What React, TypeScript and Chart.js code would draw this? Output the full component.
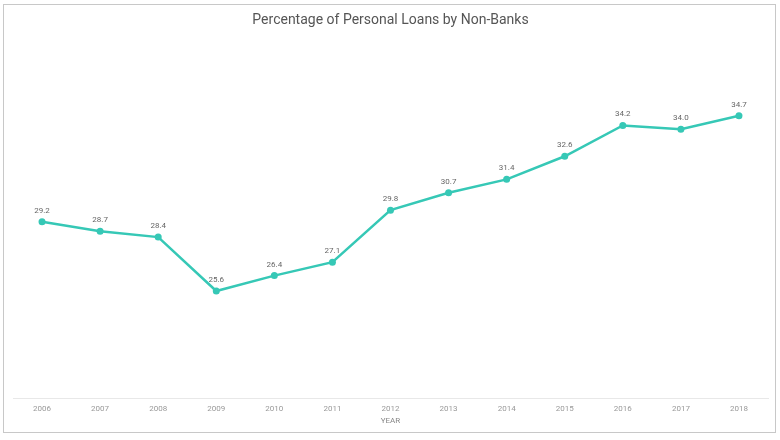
import React, { useEffect, useRef } from "react";
import Chart from "chart.js/auto";

const years = ["2006", "2007", "2008", "2009", "2010", "2011", "2012", "2013", "2014", "2015", "2016", "2017", "2018"];
const nonBankShare = [29.2, 28.7, 28.4, 25.6, 26.4, 27.1, 29.8, 30.7, 31.4, 32.6, 34.2, 34.0, 34.7];

const TEAL = "#36c8b6";

// draws the value above each point
const pointLabels = {
  id: "pointLabels",
  afterDatasetsDraw(chart: any) {
    const { ctx } = chart;
    const meta = chart.getDatasetMeta(0);
    ctx.save();
    ctx.font = "8px Roboto";
    ctx.fillStyle = "#666";
    ctx.textAlign = "center";
    ctx.textBaseline = "bottom";
    meta.data.forEach((pt: any, i: number) => {
      ctx.fillText(nonBankShare[i].toFixed(1), pt.x, pt.y - 7);
    });
    ctx.restore();
  },
};

const App = () => {
  const chartRef = useRef<HTMLCanvasElement>(null);

  useEffect(() => {
    if (!chartRef.current) return;
    const ctx = chartRef.current.getContext("2d");
    if (!ctx) return;

    const lineChart = new Chart(ctx, {
      type: "line",
      data: {
        labels: years,
        datasets: [
          {
            data: nonBankShare,
            borderColor: TEAL,
            backgroundColor: TEAL,
            borderWidth: 2.5,
            pointRadius: 3.5,
            pointBorderWidth: 0,
            tension: 0,
          },
        ],
      },
      options: {
        animation: false,
        responsive: true,
        maintainAspectRatio: false,
        layout: { padding: { left: 13, right: 12, bottom: 14, top: 0 } },
        plugins: {
          legend: { display: false },
          tooltip: { enabled: false },
          title: {
            display: true,
            text: "Percentage of Personal Loans by Non-Banks",
            color: "#555",
            font: { family: "Roboto", size: 14, weight: "normal" },
            padding: { top: 12, bottom: 62 },
          },
        },
        scales: {
          x: {
            offset: true,
            grid: { display: false, drawTicks: false, tickLength: 0 },
            border: { display: true, color: "#e8e8e8", width: 1 },
            ticks: { color: "#999", font: { family: "Roboto", size: 8 }, padding: 5, maxRotation: 0 },
            title: {
              display: true,
              text: "YEAR",
              color: "#888",
              font: { family: "Roboto", size: 8 },
              padding: { top: -2, bottom: 0 },
            },
          },
          y: {
            display: false,
            min: 20,
            max: 36,
          },
        },
      },
      plugins: [pointLabels],
    });

    return () => {
      lineChart.destroy();
    };
  }, []);

  return (
    <div style={{ position: "fixed", left: 0, top: 0, width: 780, height: 440, background: "#fff" }}>
      <canvas ref={chartRef}></canvas>
      <div
        style={{
          position: "absolute",
          left: 3,
          top: 4,
          width: 771,
          height: 427,
          border: "1px solid #c8c8c8",
          pointerEvents: "none",
        }}
      />
    </div>
  );
};

export default App;
